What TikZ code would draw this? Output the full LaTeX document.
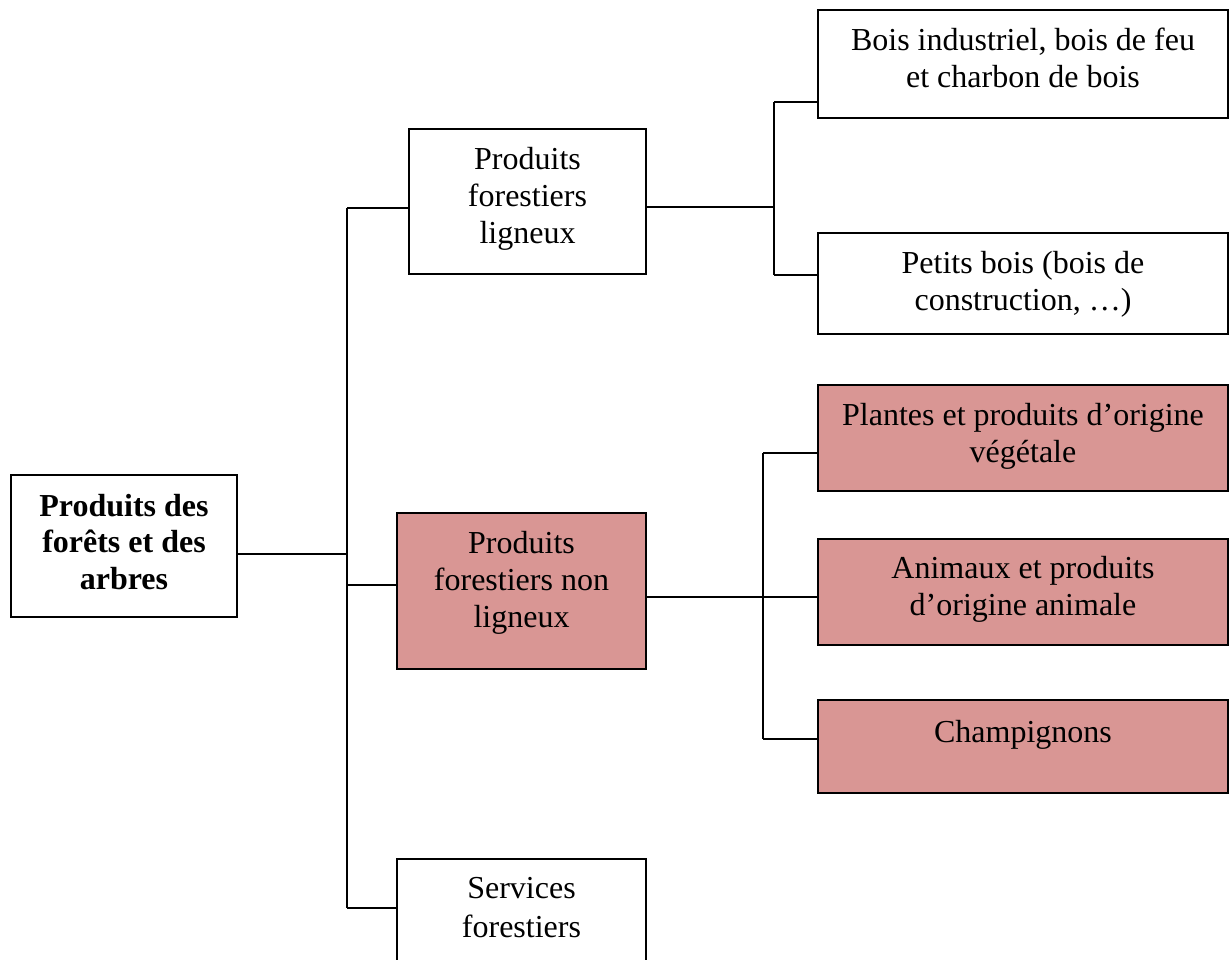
\documentclass[tikz,border=0pt]{standalone}
\usepackage{fontspec}
\setmainfont{Liberation Serif}
\definecolor{pinkfill}{HTML}{D99694}
\tikzset{
  box/.style={draw=black, line width=1.8pt, inner sep=0pt, outer sep=0pt, anchor=north west},
  pinkbox/.style={box, fill=pinkfill},
  txt/.style={font=\fontsize{32}{37}\selectfont, align=center, anchor=north, inner sep=0pt},
  conn/.style={draw=black, line width=1.4pt},
}
\newcommand{\tstrut}{\rule{0pt}{24pt}}
\begin{document}
\begin{tikzpicture}[x=1pt,y=-1pt]
\useasboundingbox (0,0) rectangle (1230,959);
\clip (0,0) rectangle (1230,959);

% boxes
\node[box, minimum width=226pt, minimum height=142pt] (root) at (11,475) {};
\node[box, minimum width=237pt, minimum height=145pt] (lig) at (409,129) {};
\node[pinkbox, minimum width=249pt, minimum height=156pt] (nonlig) at (397,513) {};
\node[box, minimum width=249pt, minimum height=130pt] (serv) at (397,859) {};
\node[box, minimum width=410pt, minimum height=108pt] (bois) at (818,10) {};
\node[box, minimum width=410pt, minimum height=101pt] (petits) at (818,233) {};
\node[pinkbox, minimum width=410pt, minimum height=106pt] (plantes) at (818,385) {};
\node[pinkbox, minimum width=410pt, minimum height=106pt] (animaux) at (818,539) {};
\node[pinkbox, minimum width=410pt, minimum height=93pt] (champ) at (818,700) {};

% texts
\node[txt, font=\fontsize{32}{36.5}\selectfont\bfseries] (rootT) at (124,492) {\tstrut Produits des\\forêts et des\\arbres};
\node[txt] (ligT) at (527.5,145) {\tstrut Produits\\forestiers\\ligneux};
\node[txt] (nonligT) at (521.5,529) {\tstrut Produits\\forestiers non\\ligneux};
\node[txt, font=\fontsize{32}{39}\selectfont] (servT) at (521.5,874) {\tstrut Services\\forestiers};
\node[txt] (boisT) at (1023,26) {\tstrut Bois industriel, bois de feu\\et charbon de bois};
\node[txt] (petitsT) at (1023,249) {\tstrut Petits bois (bois de\\construction, …)};
\node[txt] (plantesT) at (1023,401) {\tstrut Plantes et produits d’origine\\végétale};
\node[txt] (animauxT) at (1023,554) {\tstrut Animaux et produits\\d’origine animale};
\node[txt] (champT) at (1023,718) {\tstrut Champignons};

% junction coordinates
\coordinate (rj) at (347,554);
\coordinate (t1a) at (347,208);
\coordinate (t1b) at (347,585);
\coordinate (t1c) at (347,908);
\coordinate (l0) at (774,207);
\coordinate (l1) at (774,102);
\coordinate (l2) at (774,275);
\coordinate (n0) at (763,597);
\coordinate (n1) at (763,453);
\coordinate (n3) at (763,739);

% connectors
\draw[conn] (root.east |- rj) -- (rj);
\draw[conn] (t1a) -- (t1c);
\draw[conn] (t1a) -- (lig.west |- t1a);
\draw[conn] (t1b) -- (nonlig.west |- t1b);
\draw[conn] (t1c) -- (serv.west |- t1c);

\draw[conn] (lig.east |- l0) -- (l0);
\draw[conn] (l1) -- (l2);
\draw[conn] (l1) -- (bois.west |- l1);
\draw[conn] (l2) -- (petits.west |- l2);

\draw[conn] (nonlig.east |- n0) -- (n0);
\draw[conn] (n1) -- (n3);
\draw[conn] (n1) -- (plantes.west |- n1);
\draw[conn] (n0) -- (animaux.west |- n0);
\draw[conn] (n3) -- (champ.west |- n3);
\end{tikzpicture}
\end{document}
